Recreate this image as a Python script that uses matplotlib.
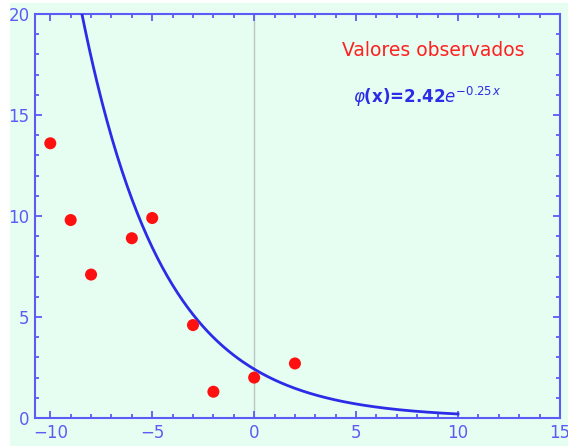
import numpy as np
import matplotlib.pyplot as plt
from matplotlib.ticker import MultipleLocator
from matplotlib.patches import Rectangle

# observed values
x_obs = [-10, -9, -8, -6, -5, -3, -2, 0, 2]
y_obs = [13.6, 9.8, 7.1, 8.9, 9.9, 4.6, 1.3, 2.0, 2.7]

# fitted curve phi(x) = a * exp(b x)
a, b = 2.42, -0.25
x_start, x_end = -8.45, 10

mint = "#e6fdf1"
axis_blue = "#5a5cf5"
curve_blue = "#2b2be8"

fig = plt.figure(figsize=(5.68, 4.46), dpi=100, facecolor=mint)
fig.patches.append(Rectangle((0, 0), 10 / 568, 1, transform=fig.transFigure,
                             facecolor="white", edgecolor="none", zorder=-1))
fig.patches.append(Rectangle((0, 1 - 3 / 446), 1, 3 / 446, transform=fig.transFigure,
                             facecolor="white", edgecolor="none", zorder=-1))

ax = fig.add_axes([0.0616, 0.0628, 0.9243, 0.9058])
ax.set_facecolor(mint)

xs = np.linspace(x_start, x_end, 300)
ax.plot(xs, a * np.exp(b * xs), color=curve_blue, lw=2, zorder=3)
ax.axvline(0, color="#b8c8c0", lw=1, zorder=1)
ax.scatter(x_obs, y_obs, s=75, color="#ff1010", edgecolors="none", zorder=4)

ax.set_xlim(-10.75, 15)
ax.set_ylim(0, 20)
ax.xaxis.set_major_locator(MultipleLocator(5))
ax.xaxis.set_minor_locator(MultipleLocator(1))
ax.yaxis.set_major_locator(MultipleLocator(5))
ax.yaxis.set_minor_locator(MultipleLocator(1))
ax.tick_params(which="both", direction="in", top=True, right=True,
               color=axis_blue, width=1.3)
ax.tick_params(which="major", length=5, labelsize=12, labelcolor=axis_blue, pad=4)
ax.tick_params(which="minor", length=3)
for sp in ax.spines.values():
    sp.set_color(axis_blue)
    sp.set_linewidth(1.5)

ax.text(8.8, 18.2, "Valores observados", color="#ff2020", fontsize=13.5,
        ha="center", va="center")
ax.text(8.5, 15.9, r"$\varphi$(x)=2.42$e^{-0.25\,x}$", color=curve_blue,
        fontsize=12, ha="center", va="center", fontweight="bold")

plt.savefig("out.png", dpi=100, facecolor=fig.get_facecolor())
